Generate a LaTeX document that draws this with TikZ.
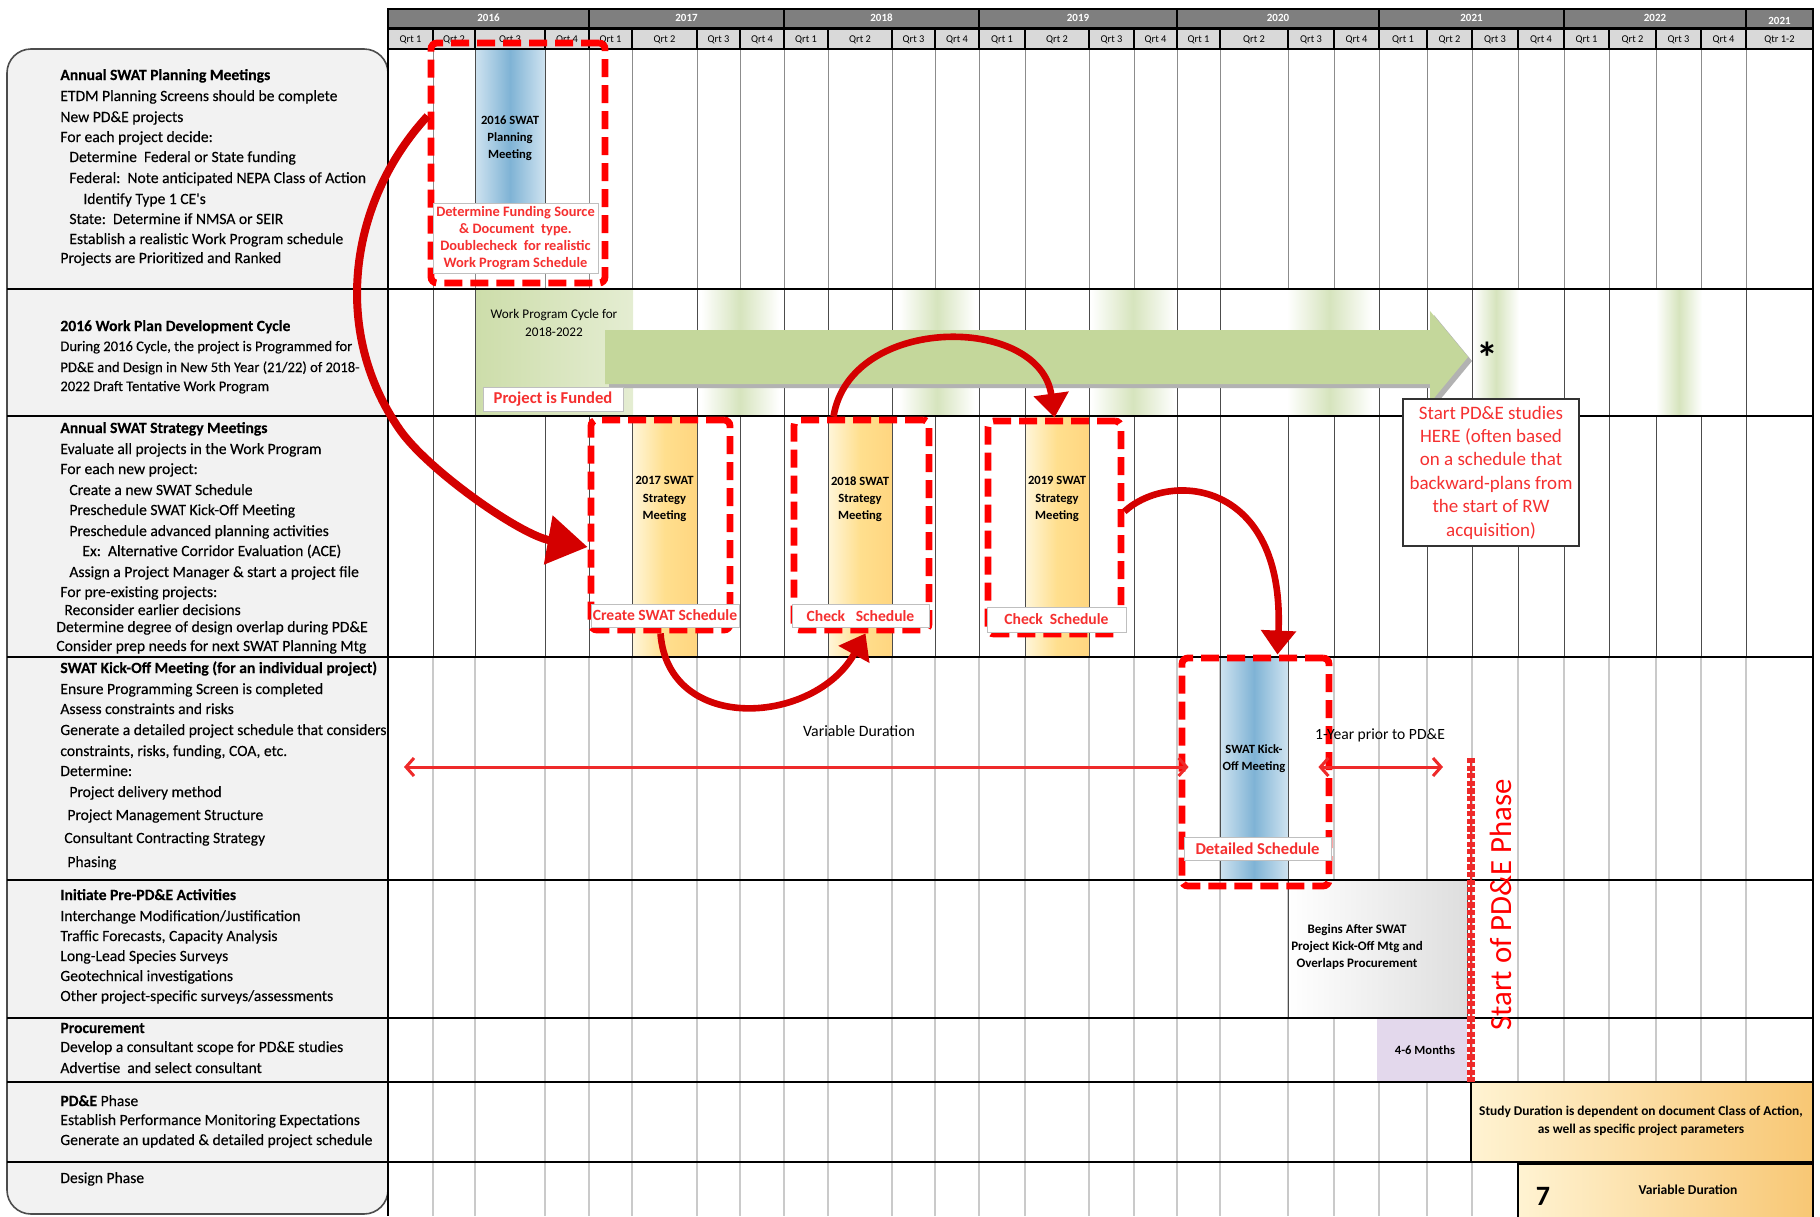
\documentclass[tikz,border=0pt]{standalone}
\usepackage{fontspec}
\setmainfont{Carlito}
\newfontfamily\panelfont{Carlito}[FakeBold=0.2]
\usetikzlibrary{positioning}
\usetikzlibrary{arrows.meta}

\definecolor{panelgray}{HTML}{F2F2F2}
\definecolor{yeargray}{HTML}{7F7F7F}
\definecolor{qtrgray}{HTML}{D9D9D9}
\definecolor{gridgray}{HTML}{CACACA}
\definecolor{swatred}{HTML}{FF0000}
\definecolor{txtred}{HTML}{F53030}
\definecolor{arrowred}{HTML}{D40000}
\definecolor{spanred}{HTML}{EE2A2A}
\definecolor{barblue}{HTML}{7FB3D5}
\definecolor{barbluelt}{HTML}{CFE3F0}
\definecolor{barorange}{HTML}{FFDF8E}
\definecolor{barorangelt}{HTML}{FFF6DA}
\definecolor{cyclegreen}{HTML}{C4D79B}
\definecolor{fadegreen}{HTML}{D6E4BD}
\definecolor{mauve}{HTML}{E3D8EC}
\definecolor{studyorange}{HTML}{F8C774}
\definecolor{studymid}{HTML}{FDE39C}
\definecolor{studylight}{HTML}{FFF3D2}

\def\qbounds{433,475,545,589,632,697,740,784,828,892,935,979,1025,1089,1134,1177,1220,1288,1334,1379,1427,1472,1518,1564,1609,1656,1701,1746}
\newcommand\narrow{\fontsize{7.3}{9}\selectfont}

\tikzset{
	every node/.style = {inner sep=0pt, font=\fontsize{7.4}{9}\selectfont},
	paneltext/.style = {anchor=base west, font=\panelfont\fontsize{7.8}{9}\selectfont},
	yearcell/.style = {draw=black, line width=0.6pt, fill=yeargray},
	qtrcell/.style = {draw=black, line width=0.6pt, fill=qtrgray},
	yeartext/.style = {text=white, font=\fontsize{5.5}{6}\selectfont\bfseries},
	qtrtext/.style = {font=\fontsize{5.2}{6}\selectfont},
	topgrid/.style = {draw=black!45, line width=0.5pt},
	darkgrid/.style = {draw=black!70, line width=0.5pt},
	lightgrid/.style = {draw=gridgray, line width=0.8pt},
	redbox/.style = {draw=swatred, line width=3.4pt, dash pattern=on 9pt off 4pt, rounded corners=3pt},
	redlabel/.style = {draw=black!25, line width=0.4pt, fill=white, text=txtred, align=center, font=\fontsize{7.8}{8.4}\selectfont\bfseries},
	bartext/.style = {align=center, font=\fontsize{6.3}{8.6}\selectfont\bfseries},
	bigcurve/.style = {draw=arrowred, line width=4pt, -{Triangle[length=20pt,width=24pt]}},
	curve/.style = {draw=arrowred, line width=3.3pt, -{Triangle[length=12pt,width=17pt]}},
	span/.style = {draw=spanred, line width=1.5pt, {Straight Barb[length=4pt,width=9pt]}-{Straight Barb[length=4pt,width=9pt]}},
}

\begin{document}
\begin{tikzpicture}[x=0.5pt, y=-0.5pt]
		\useasboundingbox (0,0) rectangle (1820,1216);
		% left panel
		\draw[fill=panelgray, draw=black!70, line width=0.8pt, rounded corners=12pt] (7,1214) rectangle (388,49);
		% grid
		\foreach \xb in \qbounds {
			\draw[topgrid] (\xb,49) -- (\xb,289);
			\draw[darkgrid] (\xb,289) -- (\xb,657);
			\draw[lightgrid] (\xb,657) -- (\xb,1216);
		}
		% header: years
		\foreach \xa/\xb/\yr/\ty [count=\i] in {388/589/2016/18, 589/784/2017/18, 784/979/2018/18, 979/1177/2019/18, 1177/1379/2020/18, 1379/1564/2021/18, 1564/1746/2022/18, 1746/1813/2021/21} {
			\draw[yearcell] (\xa,9) rectangle (\xb,28);
			\node[yeartext] (yr\i) at ({(\xa+\xb)/2},\ty) {\yr};
		}
		% header: quarters
		\foreach \xb [remember=\xb as \xa (initially 388), count=\i] in \qbounds {
			\pgfmathtruncatemacro\q{mod(\i-1,4)+1}
			\draw[qtrcell] (\xa,29) rectangle (\xb,49);
			\node[qtrtext] (q\i) at ({(\xa+\xb)/2},40) {Qrt \q};
		}
		\draw[qtrcell] (1746,29) rectangle (1813,49);
		\node[qtrtext] (qlast) at (1779.5,40) {Qtr 1-2};

		% depth 1: planning meeting
		\shade[left color=barbluelt, right color=barbluelt, middle color=barblue, draw=black!70, line width=0.5pt] (475,49) rectangle (545,205);
		\node[bartext] (planbar) at (510,138) {2016 SWAT\\Planning\\Meeting};

		% depth 2: work program cycle
		\foreach \xa/\xb in {701/779, 899/975, 1091/1175, 1287/1372, 1473/1519, 1656/1702}
			\shade[left color=white, right color=white, middle color=fadegreen] (\xa,289) rectangle (\xb,416);
		\shade[left color=cyclegreen!85, right color=cyclegreen!45] (476,289) rectangle (633,416);
		\node[align=center, font=\fontsize{6.6}{8.6}\selectfont] (cycle) at (554,323) {Work Program Cycle for\\2018-2022};
		\fill[black!30, xshift=2pt, yshift=-2pt] (605,330) -- (1430,330) -- (1430,311) -- (1468,357) -- (1430,403) -- (1430,384) -- (605,384) -- cycle;
		\fill[cyclegreen] (605,330) -- (1430,330) -- (1430,311) -- (1468,357) -- (1430,403) -- (1430,384) -- (605,384) -- cycle;
		\node[font=\fontsize{22}{22}\selectfont\bfseries] (star) at (1487,358) {*};

		% depth 3: strategy meetings
		\foreach \xa/\xb in {632/697, 828/892, 1025/1089}
			\shade[left color=barorangelt, right color=barorange!90!orange, middle color=barorange, draw=black!70, line width=0.5pt] (\xa,416) rectangle (\xb,657);
		\node[bartext] (bar17) at (664.5,499) {2017 SWAT\\Strategy\\Meeting};
		\node[bartext] (bar18) at (860,499) {2018 SWAT\\Strategy\\Meeting};
		\node[bartext] (bar19) at (1057,499) {2019 SWAT\\Strategy\\Meeting};

		% depth 4: kick-off
		\shade[left color=barbluelt, right color=barbluelt, middle color=barblue, draw=black!70, line width=0.5pt] (1220,657) rectangle (1288,880);
		\node[bartext] (kickbar) at (1254,759) {SWAT Kick-\\Off Meeting};

		% depth 5 to 8
		\shade[left color=white, middle color=white, right color=black!13, draw=black!70, line width=0.5pt] (1288,880) rectangle (1467,1018);
		\node[bartext, font=\fontsize{6.5}{8.4}\selectfont\bfseries] (begins) at (1357,947) {Begins After SWAT\\Project Kick-Off Mtg and\\Overlaps Procurement};
		\fill[mauve] (1377,1018) rectangle (1467,1082);
		\node[bartext] (months) at (1425,1050) {4-6 Months};
		\shade[left color=studylight, middle color=studymid, right color=studyorange, draw=black, line width=0.6pt] (1471,1082) rectangle (1813,1162);
		\node[bartext, font=\fontsize{6.7}{8.6}\selectfont\bfseries] (study) at (1641,1121) {Study Duration is dependent on document Class of Action,\\as well as specific project parameters};
		\shade[left color=studylight, middle color=studymid, right color=studyorange, draw=black, line width=0.6pt] (1518,1164) rectangle (1813,1218);
		\node[font=\fontsize{14}{14}\selectfont\bfseries] (seven) at (1543,1196) {7};
		\node[bartext, font=\fontsize{6.8}{8}\selectfont\bfseries] (design) at (1688,1190) {Variable Duration};

		% row lines
		\foreach \yy/\lw in {289/0.7, 416/1.2, 657/1, 880/1.2, 1018/0.7, 1082/0.7, 1162/1.2}
			\draw[line width=\lw pt] (7,\yy) -- (1813,\yy);
		\draw[line width=1.2pt] (388,49) -- (1813,49);
		\draw[line width=0.8pt] (388,49) -- (388,1216);
		\draw[line width=0.8pt] (1813,49) -- (1813,1216);

		% left panel text
		\foreach \xx/\yy/\tt [count=\i] in {
			60/80/{\bfseries Annual SWAT Planning Meetings},
			60/101/{ETDM Planning Screens should be complete},
			60/122/{New PD\&E projects},
			60/142/{For each project decide:},
			69/162/{Determine\ \ Federal or State funding},
			69/183/{Federal:\ \ Note anticipated NEPA Class of Action},
			83/204/{Identify Type 1 CE's},
			69/224/{State:\ \ Determine if NMSA or SEIR},
			69/244/{Establish a realistic Work Program schedule},
			60/263/{Projects are Prioritized and Ranked},
			60/331/{\bfseries 2016 Work Plan Development Cycle},
			60/351/{\narrow During 2016 Cycle, the project is Programmed for},
			60/372/{\narrow PD\&E and Design in New 5th Year (21/22) of 2018-},
			60/391/{\narrow 2022 Draft Tentative Work Program},
			60/433/{\bfseries Annual SWAT Strategy Meetings},
			60/454/{Evaluate all projects in the Work Program},
			60/474/{For each new project:},
			69/495/{Create a new SWAT Schedule},
			69/515/{Preschedule SWAT Kick-Off Meeting},
			69/536/{Preschedule advanced planning activities},
			82/556/{Ex:\ \ Alternative Corridor Evaluation (ACE)},
			69/577/{Assign a Project Manager \& start a project file},
			60/597/{For pre-existing projects:},
			64/615/{Reconsider earlier decisions},
			56/632/{Determine degree of design overlap during PD\&E},
			56/651/{Consider prep needs for next SWAT Planning Mtg},
			60/673/{\bfseries SWAT Kick-Off Meeting (for an individual project)},
			60/694/{Ensure Programming Screen is completed},
			60/714/{Assess constraints and risks},
			60/735/{Generate a detailed project schedule that considers},
			60/756/{constraints, risks, funding, COA, etc.},
			60/776/{Determine:},
			69/797/{Project delivery method},
			67/820/{Project Management Structure},
			64/843/{Consultant Contracting Strategy},
			67/867/{Phasing},
			60/900/{\bfseries Initiate Pre-PD\&E Activities},
			60/921/{Interchange Modification/Justification},
			60/941/{Traffic Forecasts, Capacity Analysis},
			60/961/{Long-Lead Species Surveys},
			60/981/{Geotechnical investigations},
			60/1001/{Other project-specific surveys/assessments},
			60/1033/{\bfseries Procurement},
			60/1052/{Develop a consultant scope for PD\&E studies},
			60/1073/{Advertise\ \ and select consultant},
			60/1106/{{\bfseries PD\&E} Phase},
			60/1125/{Establish Performance Monitoring Expectations},
			60/1145/{Generate an updated \& detailed project schedule},
			60/1183/{Design Phase}}
			\node[paneltext] (t\i) at (\xx,\yy) {\tt};

		% red dashed boxes
		\node[redbox, minimum width=87pt, minimum height=120pt] (plan) at (518,163) {};
		\node[redbox, minimum width=69.5pt, minimum height=105pt] (strat1) at (660.5,525) {};
		\node[redbox, minimum width=67.5pt, minimum height=105pt] (strat2) at (861.5,525) {};
		\node[redbox, minimum width=66.5pt, minimum height=106.5pt] (strat3) at (1054.5,527.5) {};
		\node[redbox, minimum width=73.5pt, minimum height=114pt] (kick) at (1255.5,772) {};

		% labels
		\node[redlabel, font=\fontsize{7.2}{8.4}\selectfont\bfseries, minimum width=82.5pt, minimum height=35pt] (planlabel) at (515.5,238) {Determine Funding Source\\\& Document\ \ type.\\Doublecheck\ \ for realistic\\Work Program Schedule};
		\node[redlabel, font=\fontsize{8.3}{9}\selectfont\bfseries, minimum width=70pt, minimum height=12pt] (funded) at (553,399) {Project is Funded};
		\node[redlabel, minimum width=74pt, minimum height=11.5pt] (create) at (665,615.5) {Create SWAT Schedule};
		\node[redlabel, minimum width=68.5pt, minimum height=11.5pt] (check1) at (860.5,616) {Check\ \ \ Schedule};
		\node[redlabel, minimum width=69.5pt, minimum height=12.5pt] (check2) at (1056.5,619.5) {Check\ \ Schedule};
		\node[redlabel, font=\fontsize{8.3}{9}\selectfont\bfseries, minimum width=73.5pt, minimum height=11.5pt] (detailed) at (1257.5,848.5) {Detailed Schedule};
		\node[draw=black!80, line width=0.6pt, fill=white, text=txtred, align=center, font=\fontsize{9.5}{11.7}\selectfont, minimum width=88pt, minimum height=73.5pt] (startpde) at (1491,472.5) {Start PD\&E studies\\HERE (often based\\on a schedule that\\backward-plans from\\the start of RW\\acquisition)};

		% durations
		\coordinate (varstart) at (404,767);
		\coordinate (yearend) at (1443,767);
		\draw[span] (varstart) -- ([xshift=5pt, yshift=2.5pt]kick.west);
		\draw[span] ([xshift=-7pt, yshift=2.5pt]kick.east) -- (yearend);
		\node[font=\fontsize{7.9}{8}\selectfont] (vardur) at (859,731) {Variable Duration};
		\node[font=\fontsize{7.8}{8}\selectfont] (yearprior) at (1380,735) {1-Year prior to PD\&E};

		% start of PD&E phase
		\coordinate (pdetop) at (1471,758);
		\coordinate (pdebot) at (1471,1082);
		\draw[draw=spanred, line width=4pt, dash pattern=on 2.6pt off 1.2pt] (pdetop) -- (pdebot);
		\draw[draw=spanred, line width=0.8pt] (pdetop) -- (pdebot);
		\node[rotate=90, text=swatred, font=\fontsize{15.4}{15}\selectfont] (pdephase) at (1501,905) {Start of PD\&E Phase};

		% curved arrows
		\draw[bigcurve] ([yshift=23.5pt]plan.west) .. controls (350,200) and (330,330) .. (400,430) .. controls (428,470) and (520,535) .. ([yshift=-11pt]strat1.west);
		\draw[curve] (strat1.south) .. controls (668,735) and (815,725) .. ([xshift=2pt]strat2.south);
		\draw[curve] ([xshift=-14pt]strat2.north) .. controls (850,314) and (1040,314) .. (strat3.north);
		\draw[curve] ([yshift=8pt]strat3.east) .. controls (1170,470) and (1285,480) .. ([xshift=11pt]kick.north);
	\end{tikzpicture}
\end{document}
